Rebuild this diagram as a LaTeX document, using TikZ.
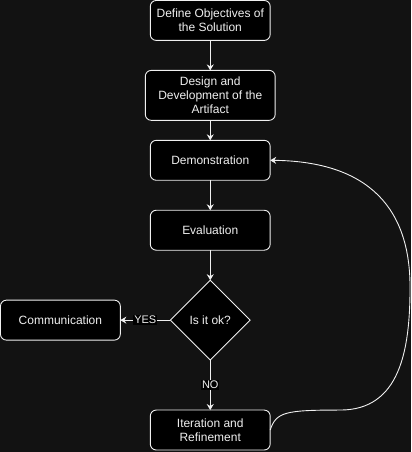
\documentclass[tikz,border=0pt]{standalone}
\usepackage{fontspec}
\setmainfont{Liberation Sans}
\usetikzlibrary{arrows.meta,shapes.geometric,positioning}
\definecolor{canvas}{HTML}{121212}
\definecolor{ink}{HTML}{F0F0F0}

\begin{document}
\begin{tikzpicture}[x=1pt,y=-1pt,->,>={Stealth[length=6pt,width=7pt,inset=2pt]},
    color=ink,line width=0.9pt,font=\fontsize{12}{14}\selectfont]
    \tikzstyle{box}=[rectangle, rounded corners=6pt, draw, fill=black, text=ink, outer sep=0pt,
                     minimum width=120pt, minimum height=40pt, align=center, inner sep=2pt]
    \tikzstyle{bigbox}=[box, minimum width=130pt, minimum height=50pt]
    \tikzstyle{choice}=[diamond, aspect=1, draw, fill=black, text=ink, outer sep=0pt,
                        minimum width=80pt, minimum height=80pt, inner sep=0pt]
    \tikzstyle{tag}=[fill=black, text=ink, inner sep=1pt, font=\fontsize{11}{13}\selectfont]

    \fill[canvas,-] (0,0) rectangle (411,452);

    \node[box]      (objectives) at (210,20) {Define Objectives of\\the Solution};
    \node[bigbox]   (design) [below=30pt of objectives] {Design and\\Development of the\\Artifact};
    \node[box]      (demo) [below=20pt of design] {Demonstration};
    \node[box]      (eval) [below=30pt of demo] {Evaluation};
    \node[choice]   (check) [below=30pt of eval] {Is it ok?};
    \node[box]      (comm) [left=50pt of check] {Communication};
    \node[box]      (iter) [below=50pt of check] {Iteration and\\Refinement};

    \path (objectives) edge (design);
    \path (design) edge (demo);
    \path (demo) edge (eval);
    \path (eval) edge (check);
    \path (check) edge node[tag] {YES} (comm);
    \path (check) edge node[tag] {NO} (iter);

    % loop back to the demonstration
    \coordinate (bend) at (340,410);
    \coordinate (far) at (410,287);
    \draw (iter.east) .. controls (276,412) and (285,410) .. (bend)
          .. controls (400,410) and (410,350) .. (far)
          .. controls (410,200) and (360,161) .. (demo.east);

  \end{tikzpicture}
\end{document}
